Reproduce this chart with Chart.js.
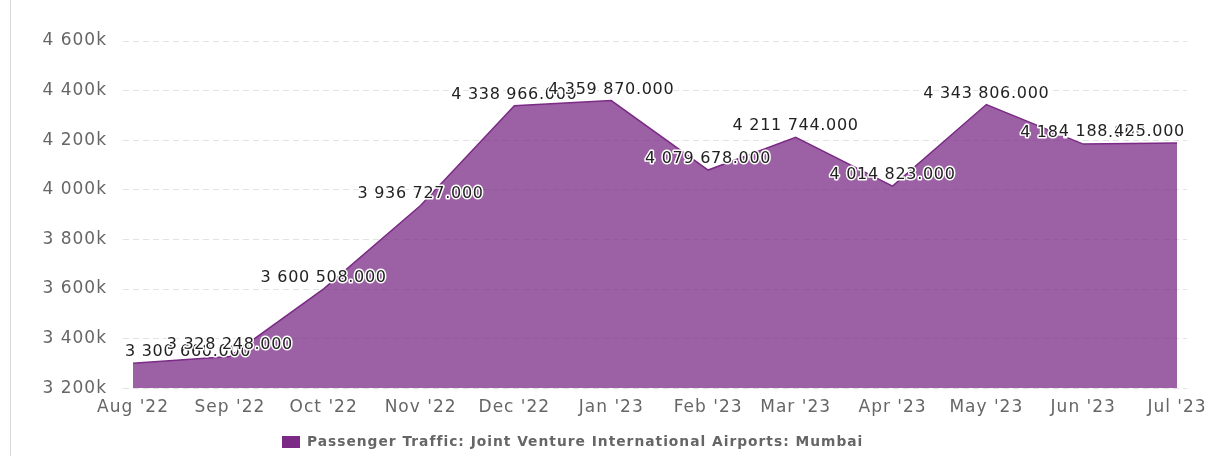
<!DOCTYPE html>
<html>
<head>
<meta charset="utf-8">
<script src="https://cdn.jsdelivr.net/npm/chart.js@4.4.0/dist/chart.umd.min.js"></script>
<style>
  html, body { margin: 0; padding: 0; background: #fff; }
  #wrap { position: relative; width: 1213px; height: 456px; }
  #edge { position: absolute; left: 10px; top: 0; width: 1px; height: 456px; background: #d8d8d8; }
  #ChartCanvas1 { position: absolute; left: 0; top: 0; }
</style>
</head>
<body>
<div id="wrap">
  <div id="edge"></div>
  <canvas id="ChartCanvas1" width="1213" height="456"></canvas>
</div>
<script>
// month starts (year, month index) of each observation
const months = [[2022, 7], [2022, 8], [2022, 9], [2022, 10], [2022, 11], [2023, 0],
                [2023, 1], [2023, 2], [2023, 3], [2023, 4], [2023, 5], [2023, 6]];
const tickLabels = ["Aug '22", "Sep '22", "Oct '22", "Nov '22", "Dec '22", "Jan '23",
                    "Feb '23", "Mar '23", "Apr '23", "May '23", "Jun '23", "Jul '23"];
const passengers = [3300660, 3328248, 3600508, 3936727, 4338966, 4359870,
                    4079678, 4211744, 4014823, 4343806, 4184188, 4188425];
const seriesName = 'Passenger Traffic: Joint Venture International Airports: Mumbai';

Initialize();

function Initialize()
{
    Chart.defaults.font.family = "'DejaVu Sans', Verdana, sans-serif";

    const base = Date.UTC(months[0][0], months[0][1], 1);
    const days = months.map(m => (Date.UTC(m[0], m[1], 1) - base) / 864e5);

    function spaced(n)
    {
        return String(n).replace(/\B(?=(\d{3})+(?!\d))/g, ' ');
    }

    // the reference text runs a bit wide, so loosen the letters
    const spacing = {
        id: 'spacing',
        beforeUpdate(chart) { chart.ctx.letterSpacing = '1px'; },
        beforeDraw(chart) { chart.ctx.letterSpacing = '1px'; }
    };

    // value labels above each point, kept inside the plot
    const pointLabels = {
        id: 'pointLabels',
        afterDatasetsDraw(chart)
        {
            const ctx = chart.ctx;
            const area = chart.chartArea;
            const meta = chart.getDatasetMeta(0);
            ctx.save();
            ctx.font = "16px 'DejaVu Sans'";
            ctx.letterSpacing = '0.7px';
            ctx.textAlign = 'left';
            ctx.textBaseline = 'alphabetic';
            ctx.lineJoin = 'round';
            meta.data.forEach((pt, i) => {
                const text = spaced(passengers[i]) + '.000';
                const w = ctx.measureText(text).width;
                let x = pt.x - w / 2;
                x = Math.max(area.left + 2, Math.min(x, area.right - 2 - w));
                const y = pt.y - 7;
                ctx.strokeStyle = '#fff';
                ctx.lineWidth = 3;
                ctx.strokeText(text, x, y);
                ctx.fillStyle = '#222';
                ctx.fillText(text, x, y);
            });
            ctx.restore();
        }
    };

    // legend starts at x = 282 rather than being centred on the canvas
    const legendShift = {
        id: 'legendShift',
        afterLayout(chart)
        {
            const lg = chart.legend;
            const pad = lg.options.labels.padding;
            const cur = (lg.left + pad + lg.right - lg.lineWidths[0]) / 2;
            const dx = 282 - cur;
            lg.left += dx;
            lg.right += dx;
            lg.top += 3;
            lg.bottom += 3;
        }
    };

    const ctx = document.getElementById('ChartCanvas1').getContext('2d');

    new Chart(ctx,
    {
        type: 'line',
        data: {
            datasets: [{
                label: seriesName,
                data: passengers.map((v, i) => ({ x: days[i], y: v })),
                backgroundColor: 'rgba(123, 43, 134, 0.75)',
                borderColor: '#7b2b86',
                borderWidth: 1.5,
                pointRadius: 0,
                tension: 0,
                fill: 'start'
            }]
        },
        options: {
            responsive: false,
            animation: false,
            layout: { padding: { top: 41, right: 26, bottom: 0, left: 0 } },
            scales: {
                x: {
                    type: 'linear',
                    min: days[0] - 3.2,
                    max: days[days.length - 1] + 3.2,
                    afterBuildTicks(scale) {
                        scale.ticks = days.map(d => ({ value: d }));
                    },
                    afterFit(scale) {
                        scale.height = 39;
                        scale.paddingLeft = 0;
                        scale.paddingRight = 0;
                    },
                    grid: { display: false, drawTicks: false },
                    border: { display: false },
                    ticks: {
                        autoSkip: false,
                        maxRotation: 0,
                        padding: 9,
                        color: '#666',
                        font: { size: 17 },
                        callback: v => tickLabels[days.indexOf(v)]
                    }
                },
                y: {
                    min: 3200000,
                    max: 4600000,
                    afterFit(scale) { scale.width = 123; },
                    grid: { color: '#e3e3e3', drawTicks: false, lineWidth: 1 },
                    border: { display: false, dash: [6, 4] },
                    ticks: {
                        stepSize: 200000,
                        padding: 16,
                        color: '#666',
                        font: { size: 17 },
                        callback: v => spaced(v / 1000) + 'k'
                    }
                }
            },
            plugins: {
                legend: {
                    position: 'bottom',
                    labels: {
                        boxWidth: 18,
                        boxHeight: 12,
                        padding: 5,
                        color: '#666',
                        font: { size: 13.8, weight: 'bold' },
                        generateLabels: chart => [{
                            text: seriesName,
                            fillStyle: '#7b2b86',
                            strokeStyle: '#7b2b86',
                            fontColor: '#666',
                            lineWidth: 0,
                            datasetIndex: 0
                        }]
                    }
                },
                tooltip: { enabled: false }
            }
        },
        plugins: [spacing, pointLabels, legendShift]
    });
}
</script>
</body>
</html>
